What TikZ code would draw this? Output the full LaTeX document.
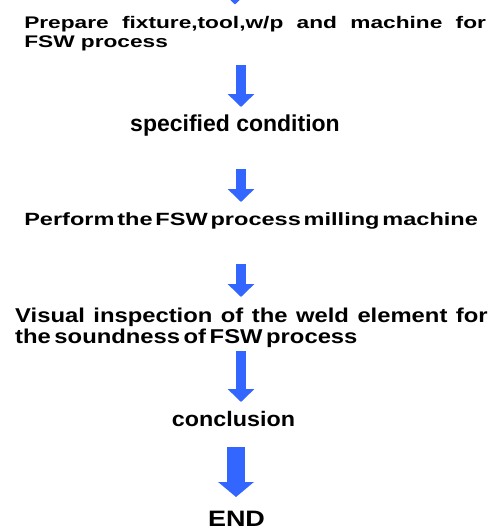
\documentclass[tikz,border=0pt]{standalone}
\usepackage{fontspec}
\setmainfont{Liberation Sans}
\usetikzlibrary{arrows.meta}
\definecolor{flowblue}{RGB}{51,102,255}

\begin{document}
\begin{tikzpicture}[x=1pt, y=-1pt,
    stepline/.style={inner sep=0pt, transform shape, font=\bfseries},
    flow/.style={draw=flowblue, line width=10pt, -{Triangle[width=26pt,length=13pt]}},
    bigflow/.style={draw=flowblue, line width=18pt, -{Triangle[width=35pt,length=15pt]}}]
    \useasboundingbox (0,0) rectangle (498,530);

    % Draw nodes
    \node[stepline, anchor=base west, xscale=1.35, text width=342pt, align=justify,
          font=\bfseries\fontsize{16.8}{19}\selectfont] (prep) at (24,28.7)
          {Prepare fixture,tool,w/p and machine for FSW process};
    \node[stepline, anchor=base, font=\bfseries\fontsize{23}{26}\selectfont] (spec) at (235,131.7)
          {specified condition};
    \node[stepline, anchor=base west, xscale=1.33, font=\bfseries\fontsize{17.7}{20}\selectfont] (perf) at (24,225)
          {\spaceskip=.12em Perform the FSW process milling machine};
    \node[stepline, anchor=base west, xscale=1.19, text width=397pt, align=justify,
          font=\bfseries\fontsize{20}{20.6}\selectfont] (insp) at (15,322.7)
          {\spaceskip=.15em plus 2em Visual inspection of the weld element for\linebreak
           the soundness of FSW process};
    \node[stepline, anchor=base, xscale=1.11, font=\bfseries\fontsize{21}{24}\selectfont] (concl) at (233.5,426.7)
          {conclusion};
    \node[stepline, anchor=base, xscale=1.21, font=\bfseries\fontsize{22.3}{26}\selectfont] (fin) at (236.5,526.7)
          {END};

    % Arrow ends
    \coordinate (a0s) at (235,-30);  \coordinate (a0e) at (235,4.5);
    \coordinate (a1s) at (241,65);   \coordinate (a1e) at (241,107);
    \coordinate (a2s) at (241,169);  \coordinate (a2e) at (241,202);
    \coordinate (a3s) at (241,264);  \coordinate (a3e) at (241,297);
    \coordinate (a4s) at (241,351);  \coordinate (a4e) at (241,402);
    \coordinate (a5s) at (236,447);  \coordinate (a5e) at (236,497);

    % Draw connections
    \draw[flow] (a0s) -- (a0e);
    \draw[flow] (a1s) -- (a1e);
    \draw[flow] (a2s) -- (a2e);
    \draw[flow] (a3s) -- (a3e);
    \draw[flow] (a4s) -- (a4e);
    \draw[bigflow] (a5s) -- (a5e);
\end{tikzpicture}
\end{document}
